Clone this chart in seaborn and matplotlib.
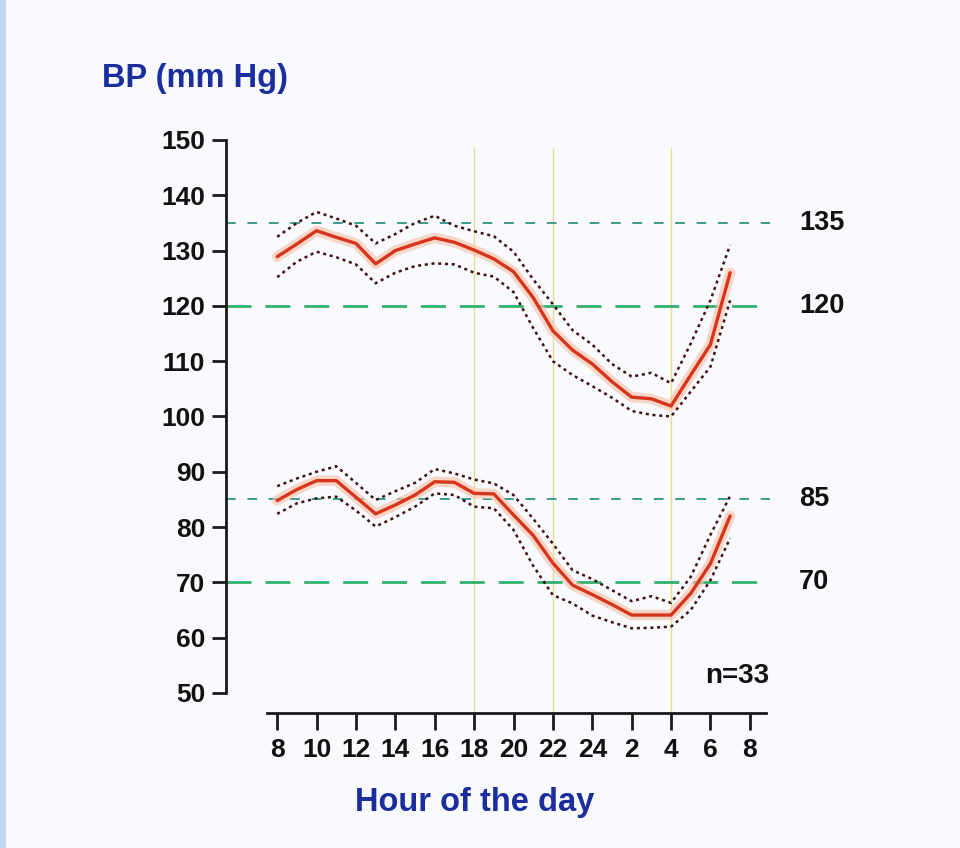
import matplotlib
matplotlib.use("Agg")
import matplotlib.pyplot as plt
import seaborn as sns
from matplotlib.patches import Rectangle

sns.set_theme(style="ticks")
plt.rcParams['font.family'] = ['Liberation Sans', 'DejaVu Sans']

# Hours since 8 am (0 = 8:00, 24 = 8:00 next day)
hours = list(range(24))
tick_pos = list(range(0, 25, 2))
tick_labels = ['8', '10', '12', '14', '16', '18', '20', '22', '24', '2', '4', '6', '8']

# Systolic
sys_mean = [128.9, 131.2, 133.6, 132.4, 131.3, 127.6, 130.0, 131.2, 132.3, 131.5, 130.1, 128.5,
            126.2, 121.5, 115.5, 112.0, 109.5, 106.3, 103.5, 103.2, 101.9, 107.5, 113.0, 126.0]
sys_upper = [132.5, 135.0, 137.0, 135.8, 134.5, 131.3, 133.0, 135.0, 136.3, 134.5, 133.5, 132.6,
             129.8, 124.8, 120.3, 115.6, 113.0, 109.5, 107.2, 107.9, 106.0, 113.2, 121.0, 131.0]
sys_lower = [125.2, 128.0, 129.8, 128.8, 127.5, 124.1, 126.0, 127.2, 127.7, 127.5, 126.0, 125.3,
             122.5, 116.0, 110.0, 107.5, 105.5, 103.4, 101.0, 100.3, 100.0, 104.5, 109.0, 121.0]

# Diastolic
dia_mean = [84.8, 86.8, 88.4, 88.4, 85.4, 82.4, 84.0, 85.8, 88.2, 88.1, 86.1, 86.0,
            82.2, 78.5, 73.5, 69.5, 67.8, 66.0, 64.1, 64.1, 64.1, 68.0, 73.4, 82.0]
dia_upper = [87.4, 88.8, 90.0, 91.0, 88.0, 84.9, 86.5, 88.0, 90.5, 89.7, 88.6, 87.9,
             85.8, 81.5, 77.0, 72.2, 70.6, 68.6, 66.6, 67.5, 66.3, 71.0, 78.6, 85.6]
dia_lower = [82.4, 84.3, 85.2, 85.5, 83.0, 80.1, 81.8, 83.7, 86.1, 85.8, 83.7, 83.4,
             79.5, 73.0, 67.7, 66.2, 64.0, 62.8, 61.7, 61.8, 62.0, 65.0, 70.4, 78.0]

# Reference thresholds and night markers
fine_refs = [135, 85]
bold_refs = [120, 70]
marker_hours = [10, 14, 20]

fig = plt.figure(figsize=(9.6, 8.48), dpi=100, facecolor='#f9fafd')
ax = fig.add_axes([226 / 960, 155 / 848, 543.5 / 960, 553 / 848])
ax.set_facecolor('#f9fafd')
fig.patches.append(Rectangle((0, 0), 5 / 960, 1, transform=fig.transFigure,
                             color='#c3d6f1', zorder=0))

# vertical yellow markers
for h in marker_hours:
    ax.plot([h, h], [148.5, 46.4], color='#e4df8e', lw=1.0, clip_on=False, zorder=1)

# horizontal thresholds
for v in fine_refs:
    ax.axhline(v, xmin=0, xmax=1, color='#3f9a8c', lw=1.4, ls=(0, (5, 6)), zorder=1)
for v in bold_refs:
    ax.axhline(v, xmin=0, xmax=1, color='#34b070', lw=2.0, ls=(0, (9, 5)), zorder=1)

# bands
for upper, lower in [(sys_upper, sys_lower), (dia_upper, dia_lower)]:
    for s in (upper, lower):
        sns.lineplot(x=hours, y=s, ax=ax, color='#3e1212', lw=1.8,
                     linestyle=(0, (1.2, 1.5)), zorder=3)

# means with soft glow
for m in (sys_mean, dia_mean):
    sns.lineplot(x=hours, y=m, ax=ax, color='#f8bfa4', lw=7.5, alpha=0.6, zorder=4)
    sns.lineplot(x=hours, y=m, ax=ax, color='#d8341c', lw=2.4, zorder=5)

ax.set_xlim(-2.6, 25)
ax.set_ylim(50, 150)

# axes styling
for side in ('top', 'right'):
    ax.spines[side].set_visible(False)
ax.spines['left'].set_color('#1a1a1a')
ax.spines['left'].set_linewidth(2)
ax.spines['left'].set_bounds(50, 150)
ax.spines['bottom'].set_color('#1a1a1a')
ax.spines['bottom'].set_linewidth(2)
ax.spines['bottom'].set_position(('outward', 14.4))
ax.spines['bottom'].set_bounds(-0.5, 24.8)

ax.set_yticks(range(50, 151, 10))
ax.set_xticks(tick_pos)
ax.set_xticklabels(tick_labels)
ax.tick_params(axis='y', left=True, direction='out', length=10, width=2, color='#1a1a1a',
               labelsize=19, pad=5)
ax.tick_params(axis='x', bottom=True, direction='out', length=12, width=2, color='#1a1a1a',
               labelsize=19, pad=6)
for lab in ax.get_xticklabels() + ax.get_yticklabels():
    lab.set_fontweight('bold')
    lab.set_color('#111111')

# right-hand threshold labels
for v in fine_refs + bold_refs:
    ax.text(26.5, v, str(v), fontsize=19.5, fontweight='bold', color='#111111',
            va='center', ha='left', clip_on=False)
ax.text(23.35, 53.0, 'n=33', fontsize=20, fontweight='bold', color='#111111',
        va='center', ha='center')

fig.text(102 / 960, 1 - 78 / 848, 'BP (mm Hg)', fontsize=23.5, fontweight='bold',
         color='#1c2d9e', va='center', ha='left')
fig.text(475 / 960, 1 - 802 / 848, 'Hour of the day', fontsize=23.5, fontweight='bold',
         color='#1c2d9e', va='center', ha='center')

fig.savefig('out.png', dpi=100, facecolor=fig.get_facecolor())
